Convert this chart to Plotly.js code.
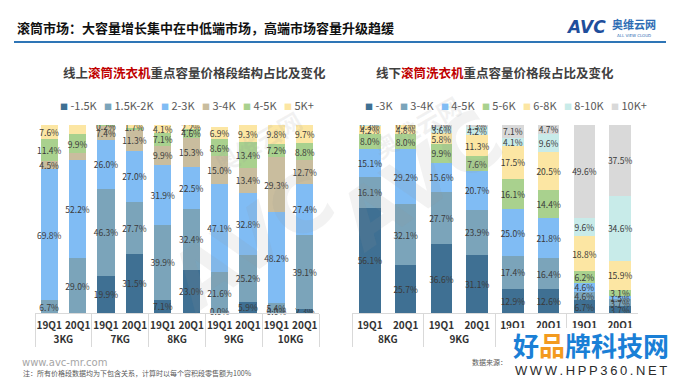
<!DOCTYPE html>
<html><head><meta charset="utf-8">
<script src="https://cdn.plot.ly/plotly-3.0.1.min.js"></script>
<style>html,body{margin:0;padding:0;background:#fff}#chart{width:680px;height:383px}</style>
</head><body><div id="chart"></div>
<script>
// ---------- Online (线上) ----------  (null = no data shown, 0 = shown as 0.0%)
const onlineGroups   = ["3KG","3KG","7KG","7KG","8KG","8KG","9KG","9KG","10KG","10KG"];
const onlineQuarters = ["19Q1","20Q1","19Q1","20Q1","19Q1","20Q1","19Q1","20Q1","19Q1","20Q1"];
const onlineSeries   = ["-1.5K","1.5K-2K","2-3K","3-4K","4-5K","5K+"];
const onlineLt1_5    = [null, null, 19.9, 31.5, 7.1,  23.0, 0.0,  5.9,  0.0,  2.3];
const online1_5to2   = [6.7,  29.0, 46.3, 27.7, 39.9, 32.4, 21.6, 25.2, 5.4,  39.1];
const online2to3     = [69.8, 52.2, 26.0, 27.0, 31.9, 22.5, 47.1, 32.8, 48.2, 27.4];
const online3to4     = [4.5,  3.9,  7.4,  11.3, 9.9,  15.3, 15.0, 13.4, 29.3, 12.7];
const online4to5     = [11.4, 9.9,  0.2,  0.8,  7.1,  4.6,  8.6,  13.4, 7.2,  8.8];
const online5plus    = [7.6,  5.0,  null, 1.7,  4.1,  2.2,  6.9,  9.3,  9.8,  9.7];
const onlineValues   = [onlineLt1_5, online1_5to2, online2to3, online3to4, online4to5, online5plus];
const onlineUnlabeled = {"3-4K":[1], "4-5K":[3]};

// ---------- Offline (线下) ----------
const offlineGroups   = ["8KG","8KG","9KG","9KG","10KG","10KG","10KG以上","10KG以上"];
const offlineQuarters = ["19Q1","20Q1","19Q1","20Q1","19Q1","20Q1","19Q1","20Q1"];
const offlineSeries   = ["-3K","3-4K","4-5K","5-6K","6-8K","8-10K","10K+"];
const offlineLt3      = [56.1, 25.7, 36.6, 31.1, 12.9, 12.6, 6.7,  3.7];
const offline3to4     = [16.1, 32.1, 27.7, 23.9, 17.4, 16.4, 4.6,  3.7];
const offline4to5     = [15.1, 29.2, 15.6, 20.7, 25.0, 21.8, 4.6,  1.5];
const offline5to6     = [8.0,  8.0,  9.9,  7.6,  16.1, 14.4, 6.2,  3.1];
const offline6to8     = [4.2,  4.8,  5.8,  11.3, 17.5, 20.5, 18.8, 15.9];
const offline8to10    = [0.3,  0.2,  3.6,  4.2,  4.1,  9.6,  9.6,  34.6];
const offline10plus   = [null, null, 0.7,  1.3,  7.1,  4.7,  49.6, 37.5];
const offlineValues   = [offlineLt3, offline3to4, offline4to5, offline5to6, offline6to8, offline8to10, offline10plus];
const offlineUnlabeled = {};

// ---------- Styles ----------
const onlineColors  = ["#3f7093","#7ba4ba","#80bcf4","#c9bd9e","#a9d18e","#fce6a3"];
const offlineColors = ["#3f7093","#7ba4ba","#80bcf4","#a9d18e","#fce6a3","#c8ebe9","#d9d9d9"];
const CJK = "Noto Sans CJK SC";
const W = 680, H = 383;
const px = x => x / W;
const py = y => 1 - y / H;
const labelFont = {family: CJK, size: 8.5, color: "#3a3a3a"};

function makeTraces(groups, quarters, series, values, colors, unlabeled, xa, ya) {
  return series.map((name, s) => ({
    type: "bar",
    name: name,
    x: [groups, quarters],
    y: values[s],
    xaxis: xa, yaxis: ya,
    marker: {color: colors[s], line: {width: 0}},
    text: values[s].map((v, i) => (v > 0 && !((unlabeled[name] || []).includes(i))) ? v.toFixed(1) + "%" : ""),
    textposition: "inside",
    insidetextanchor: "middle",
    textangle: 0,
    constraintext: "none",
    textfont: labelFont,
    hoverinfo: "skip",
    showlegend: false
  }));
}

// labels for segments that are exactly 0 (drawn at the bar base)
function zeroLabels(groups, quarters, values, xa, ya) {
  const g = [], q = [], y = [], t = [];
  values[0].forEach((v, i) => { if (v === 0) { g.push(groups[i]); q.push(quarters[i]); y.push(v); t.push(v.toFixed(1) + "%"); } });
  return {type: "scatter", mode: "text", x: [g, q], y: y, text: t, textposition: "middle center",
          textfont: labelFont, xaxis: xa, yaxis: ya, cliponaxis: false, hoverinfo: "skip", showlegend: false};
}

const data = [
  ...makeTraces(onlineGroups, onlineQuarters, onlineSeries, onlineValues, onlineColors, onlineUnlabeled, "x", "y"),
  ...makeTraces(offlineGroups, offlineQuarters, offlineSeries, offlineValues, offlineColors, offlineUnlabeled, "x2", "y2"),
  zeroLabels(onlineGroups, onlineQuarters, onlineValues, "x", "y")
];

function legendText(series, colors) {
  return series.map((n, i) => `<span style="color:${colors[i]};font-size:8px">■</span> ${n}`).join("&nbsp;&nbsp;&nbsp;");
}

const xaxisBase = {
  type: "multicategory",
  tickfont: {family: CJK, size: 10, color: "#333333", weight: "bold"},
  tickangle: 0, ticklabelstandoff: 3,
  showdividers: true, dividercolor: "#d9d9d9", dividerwidth: 1,
  showline: true, linecolor: "#d9d9d9", linewidth: 1,
  showgrid: false, zeroline: false, ticks: "", fixedrange: true
};
const yaxisBase = {range: [0, 100], visible: false, showgrid: false, zeroline: false, fixedrange: true};

const faint = "rgba(150,150,150,0.12)";
const annotations = [
  // faint background brand marks
  {xref: "paper", yref: "paper", x: px(150), y: py(240), showarrow: false, textangle: -35,
   text: "<b>AVC</b>", font: {family: "DejaVu Sans", size: 80, color: faint}},
  {xref: "paper", yref: "paper", x: px(205), y: py(100), showarrow: false, textangle: -30,
   text: "<b>奥维云网</b>", font: {family: CJK, size: 24, color: faint}},
  {xref: "paper", yref: "paper", x: px(420), y: py(180), showarrow: false, textangle: -35,
   text: "<b>AVC</b>", font: {family: "DejaVu Sans", size: 80, color: faint}},
  {xref: "paper", yref: "paper", x: px(470), y: py(85), showarrow: false, textangle: -30,
   text: "<b>奥维云网</b>", font: {family: CJK, size: 24, color: faint}},
  // Main title
  {xref: "paper", yref: "paper", x: px(15), y: py(27), xanchor: "left", yanchor: "middle", showarrow: false,
   text: "<b>滚筒市场：大容量增长集中在中低端市场，高端市场容量升级趋缓</b>",
   font: {family: CJK, size: 13, color: "#111111"}},
  // Logo
  {xref: "paper", yref: "paper", x: px(586), y: py(27), xanchor: "center", yanchor: "middle", showarrow: false,
   text: "<b><i>AVC</i></b>", font: {family: "DejaVu Sans", size: 17, color: "#1f4e9c"}},
  {xref: "paper", yref: "paper", x: px(634), y: py(24), xanchor: "center", yanchor: "middle", showarrow: false,
   text: "<b>奥维云网</b>", font: {family: CJK, size: 11, color: "#2e6db4"}},
  {xref: "paper", yref: "paper", x: px(634), y: py(35), xanchor: "center", yanchor: "middle", showarrow: false,
   text: "ALL VIEW CLOUD", font: {family: "DejaVu Sans", size: 4, color: "#2e6db4"}},
  // Subtitles
  {xref: "paper", yref: "paper", x: px(194.5), y: py(72), xanchor: "center", yanchor: "middle", showarrow: false,
   text: '<b>线上<span style="color:#c00000">滚筒洗衣机</span>重点容量价格段结构占比及变化</b>',
   font: {family: CJK, size: 12.5, color: "#404040"}},
  {xref: "paper", yref: "paper", x: px(495), y: py(72), xanchor: "center", yanchor: "middle", showarrow: false,
   text: '<b>线下<span style="color:#c00000">滚筒洗衣机</span>重点容量价格段占比及变化</b>',
   font: {family: CJK, size: 12.5, color: "#404040"}},
  // Legends
  {xref: "paper", yref: "paper", x: px(186.5), y: py(105), xanchor: "center", yanchor: "middle", showarrow: false,
   text: legendText(onlineSeries, onlineColors), font: {family: CJK, size: 11, color: "#595959"}},
  {xref: "paper", yref: "paper", x: px(506), y: py(105), xanchor: "center", yanchor: "middle", showarrow: false,
   text: legendText(offlineSeries, offlineColors), font: {family: CJK, size: 11, color: "#595959"}},
  // Footer
  {xref: "paper", yref: "paper", x: px(20), y: py(362), xanchor: "left", yanchor: "middle", showarrow: false,
   text: "www.avc-mr.com", font: {family: "DejaVu Sans", size: 10, color: "#a6a6a6"}},
  {xref: "paper", yref: "paper", x: px(21), y: py(373), xanchor: "left", yanchor: "middle", showarrow: false,
   text: "注：所有价格段数据均为下包含关系，计算时以每个容积段零售额为100%", font: {family: CJK, size: 7, color: "#595959"}},
  {xref: "paper", yref: "paper", x: px(470), y: py(362), xanchor: "left", yanchor: "middle", showarrow: false,
   text: "数据来源：", font: {family: CJK, size: 7, color: "#595959"}},
  // Site watermark (overlay in the reference picture)
  {xref: "paper", yref: "paper", x: px(591), y: py(344), xanchor: "center", yanchor: "middle", showarrow: false,
   text: '<b>好<span style="color:#f39a1e">品</span>牌科技网</b>', font: {family: CJK, size: 26, color: "#1a7fd6"}},
  {xref: "paper", yref: "paper", x: px(591), y: py(370), xanchor: "center", yanchor: "middle", showarrow: false,
   text: "W\u2009W\u2009W\u2009.\u2009H\u2009P\u2009P\u20093\u20096\u20090\u2009.\u2009N\u2009E\u2009T",
   font: {family: "Liberation Sans", size: 13, color: "#2b2b2b"}},
];

const shapes = [
  {type: "line", xref: "paper", yref: "paper", x0: px(14), x1: px(666), y0: py(42), y1: py(42),
   line: {color: "#2e75b6", width: 2}},
  {type: "rect", xref: "paper", yref: "paper", x0: px(508), x1: px(676), y0: py(328), y1: py(383),
   fillcolor: "#ffffff", line: {width: 0}, layer: "above"},
];

const layout = {
  width: W, height: H,
  margin: {l: 0, r: 0, t: 0, b: 0, pad: 0},
  paper_bgcolor: "#ffffff", plot_bgcolor: "rgba(0,0,0,0)",
  barmode: "stack", bargap: 0.4,
  showlegend: false,
  xaxis:  Object.assign({}, xaxisBase, {domain: [px(35), px(319)], anchor: "y"}),
  yaxis:  Object.assign({}, yaxisBase, {domain: [py(313), py(125)], anchor: "x"}),
  xaxis2: Object.assign({}, xaxisBase, {domain: [px(352), px(638)], anchor: "y2"}),
  yaxis2: Object.assign({}, yaxisBase, {domain: [py(313), py(125)], anchor: "x2"}),
  annotations: annotations,
  shapes: shapes
};

Plotly.newPlot("chart", data, layout, {displayModeBar: false, staticPlot: true});
</script>
</body></html>
